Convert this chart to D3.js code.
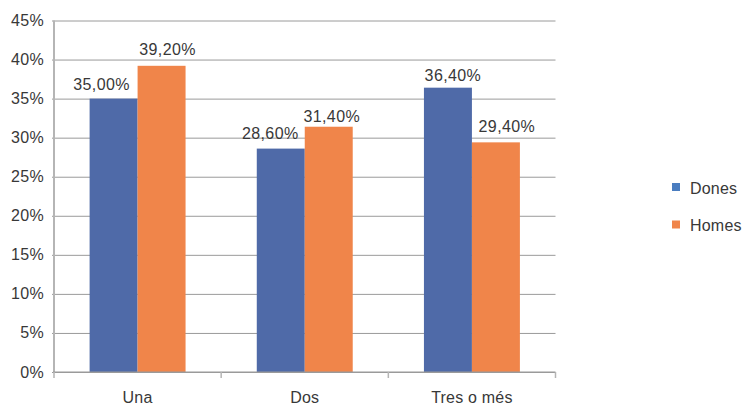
<!DOCTYPE html>
<html><head><meta charset="utf-8">
<script src="https://cdn.jsdelivr.net/npm/d3@7"></script>
<style>body{margin:0;background:#fff}svg{display:block}text{font-family:"Liberation Sans",Arial,sans-serif;fill:#383838}</style>
</head><body>
<svg id="c" width="745" height="408"></svg>
<script>
const categories = ["Una", "Dos", "Tres o més"];
const series = ["Dones", "Homes"];
const dones = [35.0, 28.6, 36.4];
const homes = [39.2, 31.4, 29.4];
const yTicks = [0, 5, 10, 15, 20, 25, 30, 35, 40, 45];
const colors = ["#4F6AA8", "#F0854A"];
const legendColors = ["#4A7DC0", "#F0854A"];
// manual label nudges (layout only), per series per category
const labelDx = [[-12, -10.5, 5], [6, 3, 11]];
const labelDy = [[-9, -10, -7], [-10.5, -4.5, -10]];

const svg = d3.select("#c");
const L = 54, R = 555.5, T = 20.5, B = 372;
const values = [dones, homes];

const y = d3.scaleLinear().domain([0, 45]).range([B, T]);
const x0 = d3.scaleBand().domain(categories).range([L, R]).paddingInner(0.426).paddingOuter(0.213);
const x1 = d3.scaleBand().domain(series).range([0, x0.bandwidth()]);

// gridlines
const grid = svg.append("g").attr("transform", `translate(${L},0)`)
  .call(d3.axisLeft(y).tickValues(yTicks).tickSize(-(R - L)).tickFormat(""));
grid.select(".domain").remove();
grid.selectAll("line").attr("stroke", "#9a9a9a").attr("stroke-width", 1).attr("x1", -2);

// y labels
svg.append("g").selectAll("text").data(yTicks).join("text")
  .attr("x", 44).attr("y", d => y(d) + 5.5).attr("text-anchor", "end")
  .style("font-size", "16px").style("letter-spacing", "0.3px").text(d => d + "%");

// bars
const fmt = v => v.toFixed(2).replace(".", ",") + "%";
series.forEach((s, si) => {
  const g = svg.append("g");
  g.selectAll("rect").data(categories).join("rect")
    .attr("x", c => x0(c) + x1(s))
    .attr("y", (c, i) => y(values[si][i]))
    .attr("width", x1.bandwidth())
    .attr("height", (c, i) => B - y(values[si][i]))
    .attr("fill", colors[si]);
  g.selectAll("text").data(categories).join("text")
    .attr("x", (c, i) => x0(c) + x1(s) + x1.bandwidth() / 2 + labelDx[si][i])
    .attr("y", (c, i) => y(values[si][i]) + labelDy[si][i])
    .attr("text-anchor", "middle").style("font-size", "16px").style("letter-spacing", "0.4px")
    .text((c, i) => fmt(values[si][i]));
});

// axes lines
svg.append("line").attr("x1", L).attr("x2", L).attr("y1", T).attr("y2", B + 1)
  .attr("stroke", "#b5b5b5").attr("stroke-width", 2);
svg.append("line").attr("x1", L - 1).attr("x2", R).attr("y1", B).attr("y2", B)
  .attr("stroke", "#9a9a9a").attr("stroke-width", 1.2);
const bounds = [L, ...categories.map(c => x0(c) + x0.bandwidth() + x0.step() * 0.213)];
svg.append("g").selectAll("line").data(bounds).join("line")
  .attr("x1", d => d).attr("x2", d => d).attr("y1", B).attr("y2", B + 6)
  .attr("stroke", "#b5b5b5").attr("stroke-width", 1.5);

// category labels
svg.append("g").selectAll("text").data(categories).join("text")
  .attr("x", c => x0(c) + x0.bandwidth() / 2).attr("y", 403)
  .attr("text-anchor", "middle").style("font-size", "16px").style("letter-spacing", "0.2px").text(c => c);

// legend
const lg = svg.append("g");
series.forEach((s, i) => {
  lg.append("rect").attr("x", 672).attr("y", 183 + i * 37.5).attr("width", 8).attr("height", 8).attr("fill", legendColors[i]);
  lg.append("text").attr("x", 690).attr("y", 193.5 + i * 37.5).style("font-size", "16px").style("letter-spacing", "0.2px").text(s);
});
</script>
</body></html>
